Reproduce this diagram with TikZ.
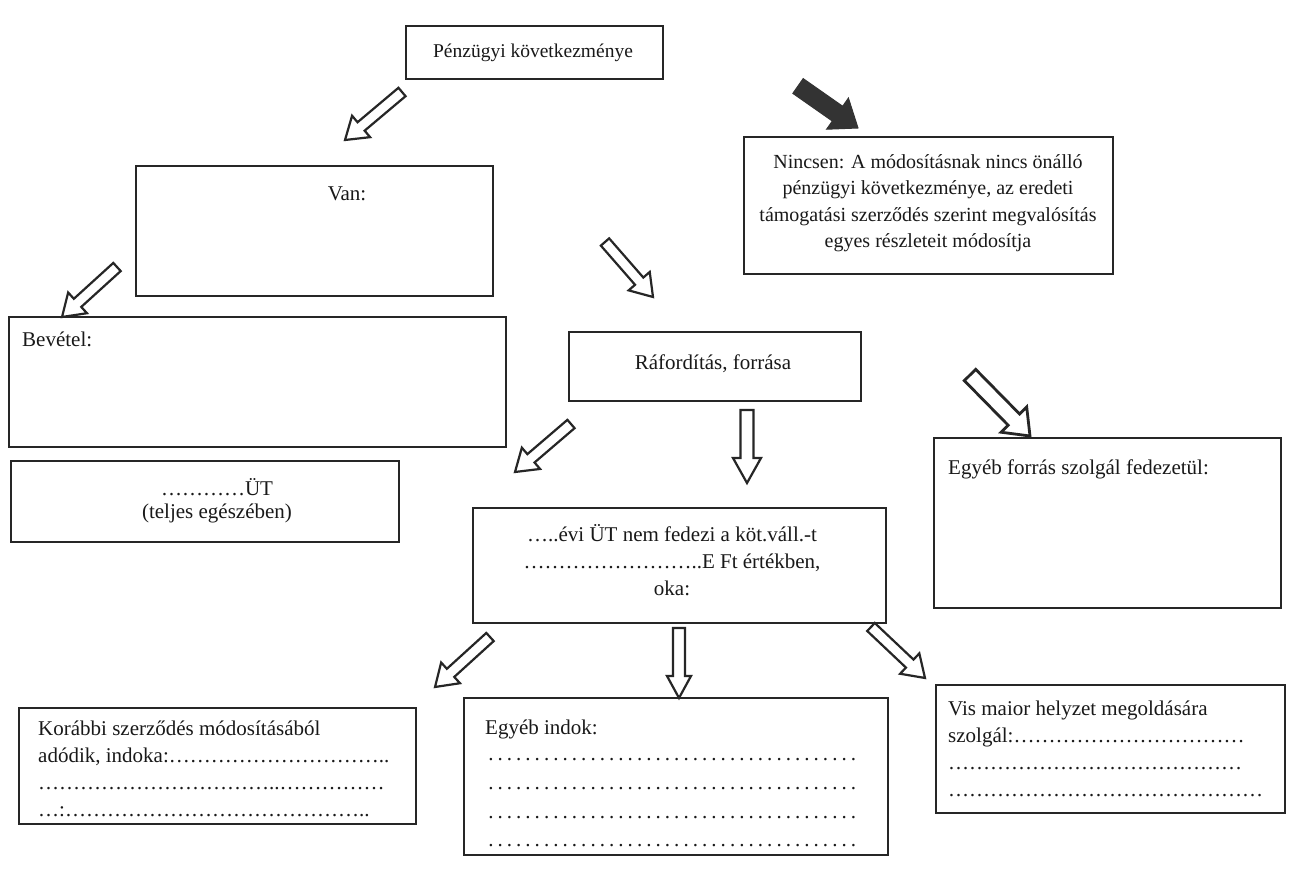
\documentclass[tikz,border=0pt]{standalone}
\usepackage{fontspec}
\setmainfont{Liberation Serif}
\usetikzlibrary{calc}
\ExplSyntaxOn
\NewDocumentCommand{\elli}{m}{\prg_replicate:nn{#1}{…}}
\ExplSyntaxOff
\tikzset{
 box/.style={draw=black!85, line width=1.8pt, anchor=north west, inner sep=0pt},
 txt/.style={font=\fontsize{21}{27}\selectfont, inner sep=0pt, text=black!90},
 hollow/.style={draw=black!85, line width=2.2pt, fill=white, line join=miter},
 solidarr/.style={draw=black!80, fill=black!80, line width=1pt},
}
\newcommand{\blockarr}[6]{%
 \path let \p1=($(#2)-(#1)$), \n1={atan2(\y1,\x1)}, \n2={veclen(\x1,\y1)} in \pgfextra{\xdef\bkang{\n1}\xdef\bklen{\n2}};
 \draw[#6, shift={(#1)}, rotate=\bkang] (0,#3) -- ({\bklen-#5},#3) -- ({\bklen-#5},#4) -- (\bklen,0) -- ({\bklen-#5},-#4) -- ({\bklen-#5},-#3) -- (0,-#3) -- cycle;
}
\newcommand{\dotrow}[1]{\hbox to #1{\xleaders\hbox to 9.25pt{\hss.\hss}\hfill}}
\begin{document}
\begin{tikzpicture}[x=1pt,y=-1pt]
\useasboundingbox[fill=white] (0,0) rectangle (1295,875);
% boxes
\node[box, minimum width=257pt, minimum height=53pt] (pz) at (405,25) {};
\node[box, minimum width=357pt, minimum height=130pt] (van) at (135,165) {};
\node[box, minimum width=369pt, minimum height=137pt] (nincs) at (743,136) {};
\node[box, minimum width=497pt, minimum height=130pt] (bev) at (8,316) {};
\node[box, minimum width=292pt, minimum height=69pt] (raf) at (568,331) {};
\node[box, minimum width=388pt, minimum height=81pt] (ut) at (10,460) {};
\node[box, minimum width=347pt, minimum height=170pt] (egyf) at (933,437) {};
\node[box, minimum width=413pt, minimum height=115pt] (evi) at (472,507) {};
\node[box, minimum width=397pt, minimum height=116pt] (kor) at (18,707) {};
\node[box, minimum width=424pt, minimum height=157pt] (egyi) at (463,697) {};
\node[box, minimum width=349pt, minimum height=128pt] (vis) at (935,684) {};
% texts
\node[txt, anchor=base, font=\fontsize{19.5}{24}\selectfont] (pzt) at (533,57) {Pénzügyi következménye};
\node[txt, anchor=base] (vant) at (347,200) {Van:};
\node[txt, align=center, font=\fontsize{20}{26.5}\selectfont] (nincst) at (928,203) {Nincsen: A módosításnak nincs önálló\\pénzügyi következménye, az eredeti\\támogatási szerződés szerint megvalósítás\\egyes részleteit módosítja};
\node[txt, anchor=base west] (bevt) at (22,346) {Bevétel:};
\node[txt, anchor=base] (raft) at (713,369) {Ráfordítás, forrása};
\node[txt, align=center, font=\fontsize{21}{23}\selectfont] (utt) at (217,501) {\elli{4}ÜT\\(teljes egészében)};
\node[txt, anchor=base west] (egyft) at (948,474) {Egyéb forrás szolgál fedezetül:};
\node[txt, align=center] (evit) at (672,560) {\elli{1}..évi ÜT nem fedezi a köt.váll.-t\\\elli{8}..E Ft értékben,\\oka:};
\node[txt, align=left, anchor=west] (kort) at (38,769) {Korábbi szerződés módosításából\\adódik, indoka:\elli{10}..\\\elli{11}..\elli{5}\\\elli{1}:\elli{14}..};
\node[txt, anchor=base west] (egyit) at (485,734) {Egyéb indok:};
\node[txt, anchor=base west] (egyi1) at (486,760) {\dotrow{372pt}};
\node[txt, anchor=base west] (egyi2) at (486,789) {\dotrow{372pt}};
\node[txt, anchor=base west] (egyi3) at (486,818) {\dotrow{372pt}};
\node[txt, anchor=base west] (egyi4) at (486,846) {\dotrow{372pt}};
\node[txt, align=left, anchor=west] (vist) at (948,749) {Vis maior helyzet megoldására\\szolgál:\elli{11}\\\elli{14}\\\elli{15}};
% arrow end points
\coordinate (a1t) at (402,92);  \coordinate (a1h) at (345,140);
\coordinate (a2t) at (798,86);  \coordinate (a2h) at (858,128);
\coordinate (a3t) at (117,267); \coordinate (a3h) at (62,317);
\coordinate (a4t) at (605,242); \coordinate (a4h) at (653,297);
\coordinate (a5t) at (970,375); \coordinate (a5h) at (1030,436);
\coordinate (a6t) at (571,424); \coordinate (a6h) at (515,472);
\coordinate (a7t) at (747,410); \coordinate (a7h) at (747,483);
\coordinate (a8t) at (490,637); \coordinate (a8h) at (435,687);
\coordinate (a9t) at (679,628); \coordinate (a9h) at (679,698);
\coordinate (a10t) at (871,627); \coordinate (a10h) at (925,678);
\blockarr{a1t}{a1h}{5.5}{14}{21}{hollow}
\blockarr{a2t}{a2h}{9}{19}{25}{solidarr}
\blockarr{a3t}{a3h}{5.5}{14}{21}{hollow}
\blockarr{a4t}{a4h}{5.5}{14}{21}{hollow}
\blockarr{a5t}{a5h}{8}{18}{23}{hollow, line width=2.8pt}
\blockarr{a6t}{a6h}{5.5}{14}{21}{hollow}
\blockarr{a7t}{a7h}{6.5}{14}{25}{hollow}
\blockarr{a8t}{a8h}{5.5}{14}{21}{hollow}
\blockarr{a9t}{a9h}{6}{12}{22}{hollow}
\blockarr{a10t}{a10h}{5.5}{14}{21}{hollow}
\end{tikzpicture}
\end{document}
